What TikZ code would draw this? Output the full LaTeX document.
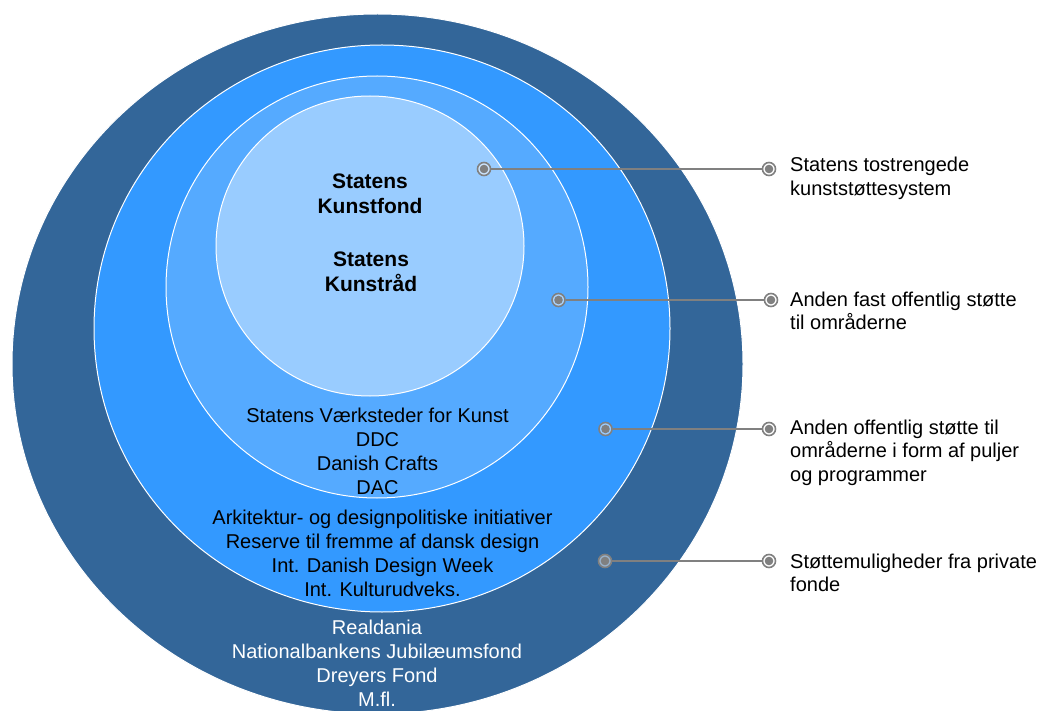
\documentclass[tikz,border=0pt]{standalone}
\usepackage{fontspec}
\setmainfont{Liberation Sans}
\definecolor{ringA}{HTML}{336699}
\definecolor{ringB}{HTML}{3399FF}
\definecolor{ringC}{HTML}{55AAFF}
\definecolor{ringD}{HTML}{99CCFF}
\definecolor{conn}{HTML}{808080}
\begin{document}
\begin{tikzpicture}[
  ring/.style={draw=white, line width=1pt},
  bodytext/.style={font=\fontsize{20}{24}\selectfont, align=center, inner sep=0pt},
  boldtext/.style={font=\fontsize{21}{25}\selectfont\bfseries, align=center, inner sep=0pt},
  labeltext/.style={font=\fontsize{20}{23.5}\selectfont, align=left, anchor=west, inner sep=0pt},
  dot/.style={circle, inner sep=0pt, minimum size=13pt, draw=conn, line width=1.6pt,
    fill=white, fill opacity=0.5,
    path picture={\fill[conn, fill opacity=1] (path picture bounding box.center) circle (4.3pt);}},
  conline/.style={draw=conn, line width=2pt}
]
\useasboundingbox (0pt,0pt) rectangle (1039pt,-711pt);
% rings
\path[ring, fill=ringA] (377.5pt,-364pt) ellipse [x radius=365.5pt, y radius=350pt];
\path[ring, fill=ringB] (382pt,-328.5pt) ellipse [x radius=288pt, y radius=283.5pt];
\path[ring, fill=ringC] (377pt,-287pt) ellipse [x radius=211pt, y radius=211pt];
\path[ring, fill=ringD] (370pt,-246pt) ellipse [x radius=154pt, y radius=150pt];
% texts in rings
\node[boldtext] (kf) at (370pt,-193.5pt) {Statens\\Kunstfond};
\node[boldtext] (kr) at (371pt,-272pt) {Statens\\Kunstråd};
\node[bodytext] (t3) at (377.5pt,-451.5pt) {Statens Værksteder for Kunst\\DDC\\Danish Crafts\\DAC};
\node[bodytext] (t2) at (382.5pt,-553pt) {Arkitektur- og designpolitiske initiativer\\Reserve til fremme af dansk design\\Int. Danish Design Week\\Int. Kulturudveks.};
\node[bodytext, text=white] (t1) at (377pt,-663.5pt) {Realdania\\Nationalbankens Jubilæumsfond\\Dreyers Fond\\M.fl.};
% connector dots
\node[dot] (a1) at (484pt,-169pt) {};
\node[dot] (b1) at (769pt,-169pt) {};
\node[dot] (a2) at (558.5pt,-300pt) {};
\node[dot] (b2) at (771pt,-300pt) {};
\node[dot] (a3) at (605.5pt,-429pt) {};
\node[dot] (b3) at (769pt,-429pt) {};
\node[dot] (a4) at (605pt,-561pt) {};
\node[dot] (b4) at (769pt,-561pt) {};
\draw[conline] (a1) -- (b1);
\draw[conline] (a2) -- (b2);
\draw[conline] (a3) -- (b3);
\draw[conline] (a4) -- (b4);
% labels
\node[labeltext] (l1) at (790pt,-178.5pt) {Statens tostrengede\\kunststøttesystem};
\node[labeltext] (l2) at (790pt,-311pt) {Anden fast offentlig støtte\\til områderne};
\node[labeltext] (l3) at (790pt,-452.5pt) {Anden offentlig støtte til\\områderne i form af puljer\\og programmer};
\node[labeltext] (l4) at (790pt,-573pt) {Støttemuligheder fra private\\fonde};
\end{tikzpicture}
\end{document}
